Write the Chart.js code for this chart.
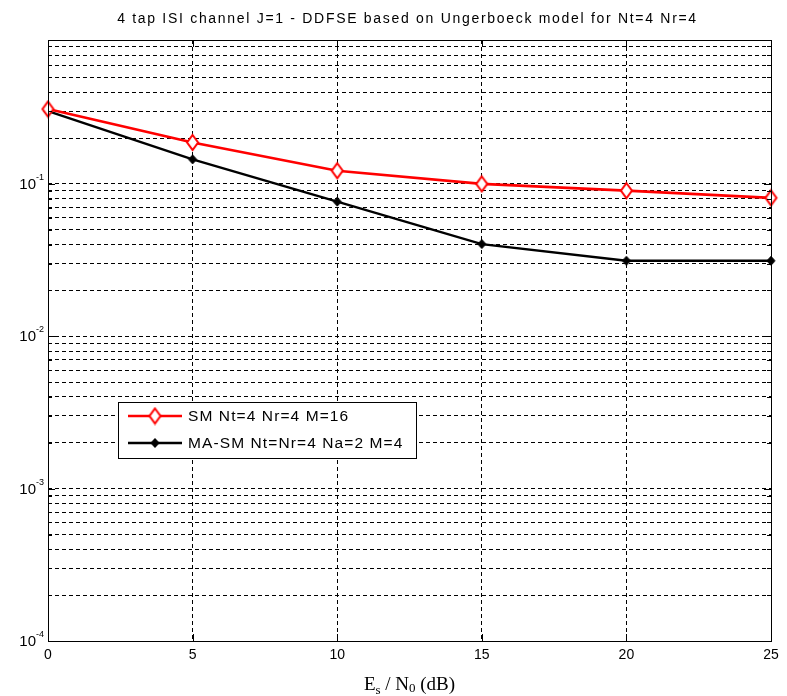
<!DOCTYPE html>
<html>
<head>
<meta charset="utf-8">
<script src="https://cdn.jsdelivr.net/npm/chart.js@4.4.1/dist/chart.umd.min.js"></script>
<style>
  html, body { margin: 0; padding: 0; background: #fff; }
  #wrap { width: 787px; height: 696px; }
</style>
</head>
<body>
<div id="wrap"><canvas id="ber"></canvas></div>
<script>
// SNR points (dB)
var snrDb = [0, 5, 10, 15, 20, 25];
// symbol error rate curves
var berSM   = [0.31, 0.187, 0.122, 0.100, 0.0903, 0.081];
var berMASM = [0.30, 0.145, 0.0765, 0.0403, 0.0313, 0.0313];

var xTicks = [0, 5, 10, 15, 20, 25];
var yDecades = [1e-4, 1e-3, 1e-2, 1e-1];
var yMin = 1e-4, yMax = 0.88;

var titleTxt = '4 tap ISI channel J=1 - DDFSE based on Ungerboeck model for Nt=4 Nr=4';
var labelSM = 'SM Nt=4 Nr=4 M=16';
var labelMASM = 'MA-SM Nt=Nr=4 Na=2 M=4';

// every 1..9 x 10^k between the limits, for the log grid
var yGrid = [];
for (var e = -4; e <= 0; e++) {
  for (var m = 1; m <= 9; m++) {
    var v = m * Math.pow(10, e);
    if (v >= yMin * 0.999 && v <= yMax) yGrid.push(v);
  }
}

function pts(ys) {
  return snrDb.map(function (x, i) { return {x: x, y: ys[i]}; });
}

// diamond marker sprite (matlab style, a bit taller than wide)
function diamond(w, h, stroke, fill, lw) {
  var c = document.createElement('canvas');
  c.width = w + 4; c.height = h + 4;
  var g = c.getContext('2d');
  var cx = c.width / 2, cy = c.height / 2;
  g.beginPath();
  g.moveTo(cx, cy - h / 2); g.lineTo(cx + w / 2, cy);
  g.lineTo(cx, cy + h / 2); g.lineTo(cx - w / 2, cy);
  g.closePath();
  g.fillStyle = fill; g.fill();
  g.lineWidth = lw; g.strokeStyle = stroke; g.stroke();
  return c;
}
var redMark = diamond(11, 15, '#ff0000', '#ffffff', 2);
var blackMark = diamond(8, 9, '#000000', '#000000', 1);

var sansFont = '"Liberation Sans", Arial, sans-serif';

// frame, inner ticks, decade labels, xlabel, title and legend
var decor = {
  id: 'decor',
  afterDraw: function (chart) {
    var ctx = chart.ctx;
    var a = chart.chartArea;
    var xs = chart.scales.x, ys = chart.scales.y;
    ctx.save();
    ctx.strokeStyle = '#000';
    ctx.lineWidth = 1;
    ctx.setLineDash([]);

    // inner tick marks on all four sides
    ctx.beginPath();
    xTicks.forEach(function (t) {
      var px = Math.round(xs.getPixelForValue(t)) + 0.5;
      ctx.moveTo(px, a.bottom); ctx.lineTo(px, a.bottom - 7);
      ctx.moveTo(px, a.top); ctx.lineTo(px, a.top + 7);
    });
    yGrid.forEach(function (v) {
      var py = Math.round(ys.getPixelForValue(v)) + 0.5;
      var len = yDecades.indexOf(v) >= 0 ? 7 : 4;
      ctx.moveTo(a.left, py); ctx.lineTo(a.left + len, py);
      ctx.moveTo(a.right, py); ctx.lineTo(a.right - len, py);
    });
    ctx.stroke();

    // box
    ctx.strokeRect(Math.round(a.left) + 0.5, Math.round(a.top) + 0.5,
                   Math.round(a.right - a.left), Math.round(a.bottom - a.top));

    // x tick labels
    ctx.fillStyle = '#000';
    ctx.font = '14px ' + sansFont;
    ctx.textAlign = 'center';
    ctx.textBaseline = 'top';
    xTicks.forEach(function (t) {
      ctx.fillText(String(t), xs.getPixelForValue(t), a.bottom + 7);
    });

    // y decade labels 10^k
    yDecades.forEach(function (v) {
      var py = ys.getPixelForValue(v);
      var ex = String(Math.round(Math.log10(v)));
      ctx.font = '9px ' + sansFont;
      var ew = ctx.measureText(ex).width;
      ctx.textAlign = 'left';
      ctx.textBaseline = 'alphabetic';
      ctx.fillText(ex, a.left - 4 - ew, py - 4);
      ctx.font = '15px ' + sansFont;
      ctx.textAlign = 'right';
      ctx.fillText('10', a.left - 4 - ew, py + 5);
    });

    // x axis label: E_s / N_0 (dB)
    var cx = (a.left + a.right) / 2;
    var base = a.bottom + 49;
    var parts = [
      {t: 'E', f: '19px "Liberation Serif", serif', dy: 0},
      {t: 's', f: '13px "Liberation Serif", serif', dy: 4},
      {t: ' / N', f: '19px "Liberation Serif", serif', dy: 0},
      {t: '0', f: '13px "Liberation Serif", serif', dy: 2},
      {t: ' (dB)', f: '19px "Liberation Serif", serif', dy: 0}
    ];
    var total = 0;
    parts.forEach(function (p) { ctx.font = p.f; p.w = ctx.measureText(p.t).width; total += p.w; });
    var px = cx - total / 2;
    ctx.textAlign = 'left';
    parts.forEach(function (p) {
      ctx.font = p.f;
      ctx.fillText(p.t, px, base + p.dy);
      px += p.w;
    });

    // title
    ctx.font = '14px ' + sansFont;
    ctx.letterSpacing = '1.7px';
    ctx.textAlign = 'center';
    ctx.fillText(titleTxt, cx - 2, 23);
    ctx.letterSpacing = '0px';

    // legend box
    var lx = 118, ly = 402, lw = 298, lh = 56;
    ctx.fillStyle = '#fff';
    ctx.fillRect(lx, ly, lw, lh);
    ctx.strokeStyle = '#000';
    ctx.lineWidth = 1;
    ctx.strokeRect(lx + 0.5, ly + 0.5, lw, lh);
    chart.data.datasets.forEach(function (ds, i) {
      var ry = ly + 14 + i * 27;
      ctx.strokeStyle = ds.borderColor;
      ctx.lineWidth = ds.borderWidth;
      ctx.beginPath();
      ctx.moveTo(lx + 10, ry); ctx.lineTo(lx + 64, ry);
      ctx.stroke();
      var mk = ds.pointStyle;
      ctx.drawImage(mk, lx + 37 - mk.width / 2, ry - mk.height / 2);
      ctx.fillStyle = '#000';
      ctx.font = '15.5px ' + sansFont;
      ctx.letterSpacing = '1.1px';
      ctx.textAlign = 'left';
      ctx.textBaseline = 'middle';
      ctx.fillText(ds.label, lx + 70, ry + 1);
      ctx.letterSpacing = '0px';
    });
    ctx.restore();
  }
};

new Chart(document.getElementById('ber'), {
  type: 'line',
  data: {
    datasets: [{
      label: labelSM,
      data: pts(berSM),
      borderColor: '#ff0000',
      borderWidth: 2.6,
      pointStyle: redMark,
      tension: 0,
      clip: false
    }, {
      label: labelMASM,
      data: pts(berMASM),
      borderColor: '#000000',
      borderWidth: 2.3,
      pointStyle: blackMark,
      tension: 0,
      clip: false
    }]
  },
  options: {
    responsive: true,
    maintainAspectRatio: false,
    animation: false,
    events: [],
    layout: { padding: { left: 48, right: 16, top: 40, bottom: 55 } },
    plugins: {
      legend: { display: false },
      title: { display: false },
      tooltip: { enabled: false }
    },
    scales: {
      x: {
        type: 'linear',
        min: 0, max: 25,
        afterBuildTicks: function (s) { s.ticks = xTicks.map(function (v) { return {value: v}; }); },
        ticks: { display: false },
        grid: { color: '#000', lineWidth: 1, drawTicks: false },
        border: { display: false, dash: [4, 3] }
      },
      y: {
        type: 'logarithmic',
        min: yMin, max: yMax,
        afterBuildTicks: function (s) { s.ticks = yGrid.map(function (v) { return {value: v}; }); },
        ticks: { display: false },
        grid: { color: '#000', lineWidth: 1, drawTicks: false },
        border: { display: false, dash: [4, 3] }
      }
    }
  },
  plugins: [decor]
});
</script>
</body>
</html>
